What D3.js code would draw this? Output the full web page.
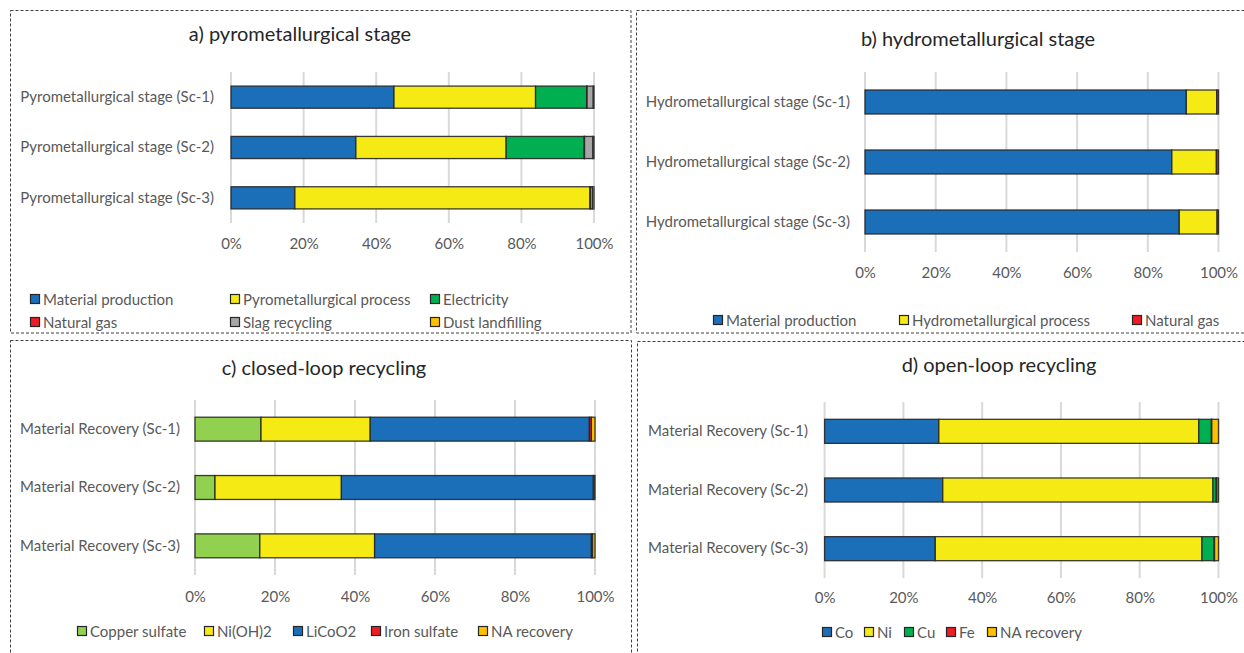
<!DOCTYPE html>
<html><head><meta charset="utf-8">
<script src="https://cdn.jsdelivr.net/npm/d3@7"></script>
<style>
body{margin:0;background:#fff;}
svg{display:block;font-family:Lato, "Noto Sans", sans-serif;}
</style></head>
<body><svg id="c" width="1244" height="653"></svg>
<script>
// ---------- data ----------
const tickValues = [0, 0.2, 0.4, 0.6, 0.8, 1.0];

const pyroCategories = ["Pyrometallurgical stage (Sc-1)", "Pyrometallurgical stage (Sc-2)", "Pyrometallurgical stage (Sc-3)"];
const pyroSeries = ["Material production", "Pyrometallurgical process", "Electricity", "Natural gas", "Slag recycling", "Dust landfilling"];
const pyroValues = [
  [44.9, 34.4, 17.6],
  [39.0, 41.4, 81.3],
  [14.1, 21.5, 0.0],
  [0.1, 0.1, 0.1],
  [1.7, 2.3, 0.6],
  [0.2, 0.3, 0.4]
];

const hydroCategories = ["Hydrometallurgical stage (Sc-1)", "Hydrometallurgical stage (Sc-2)", "Hydrometallurgical stage (Sc-3)"];
const hydroSeries = ["Material production", "Hydrometallurgical process", "Natural gas"];
const hydroValues = [
  [90.9, 86.8, 88.9],
  [8.6, 12.6, 10.7],
  [0.5, 0.6, 0.4]
];

const closedCategories = ["Material Recovery (Sc-1)", "Material Recovery (Sc-2)", "Material Recovery (Sc-3)"];
const closedSeries = ["Copper sulfate", "Ni(OH)2", "LiCoO2", "Iron sulfate", "NA recovery"];
const closedValues = [
  [16.5, 5.0, 16.2],
  [27.3, 31.6, 28.7],
  [54.8, 63.0, 54.2],
  [0.5, 0.1, 0.3],
  [0.9, 0.3, 0.6]
];

const openCategories = ["Material Recovery (Sc-1)", "Material Recovery (Sc-2)", "Material Recovery (Sc-3)"];
const openSeries = ["Co", "Ni", "Cu", "Fe", "NA recovery"];
const openValues = [
  [29.0, 30.0, 28.1],
  [66.0, 68.6, 67.7],
  [3.2, 0.8, 3.1],
  [0.1, 0.2, 0.1],
  [1.7, 0.4, 1.0]
];

// ---------- styles ----------
const BLUE = "#1b6fb8", YELLOW = "#f5ea14", GREEN = "#00b050", RED = "#ee1c25",
      GRAY = "#a6a6a6", ORANGE = "#ffc000", LGREEN = "#92d050";
const TXT = "#595959";
const FS = 15;

const svg = d3.select("#c");

// panel borders
function border(x, y, w, h) {
  svg.append("rect").attr("x", x).attr("y", y).attr("width", w).attr("height", h)
    .attr("fill", "none").attr("stroke", "#404040").attr("stroke-width", 1)
    .attr("stroke-dasharray", "3,2");
}
border(10.5, 10.5, 620.5, 322.5);
border(636.5, 10.5, 620, 322.5);
border(10.5, 340.5, 621, 330);
border(637.5, 341.5, 620, 330);

function panel(cfg) {
  const g = svg.append("g");
  const x = d3.scaleLinear().domain([0, 1]).range(cfg.xr);
  const y = d3.scaleBand().domain(cfg.categories).range(cfg.yr)
    .paddingInner(cfg.pad).paddingOuter(cfg.pad / 2);

  // title
  g.append("text").attr("x", cfg.title[1]).attr("y", cfg.title[2])
    .attr("text-anchor", "middle").attr("font-size", 20).attr("fill", "#262626")
    .text(cfg.title[0]);

  // grid
  g.selectAll(".grid").data(tickValues).join("line")
    .attr("x1", d => x(d)).attr("x2", d => x(d))
    .attr("y1", cfg.yr[0]).attr("y2", cfg.yr[1])
    .attr("stroke", "#d9d9d9").attr("stroke-width", 2);

  // x axis labels
  const ax = g.append("g").attr("transform", `translate(0,${cfg.tickY})`)
    .call(d3.axisBottom(x).tickValues(tickValues).tickFormat(d3.format(".0%")).tickSize(0).tickPadding(0));
  ax.select(".domain").remove();
  ax.selectAll("text").attr("font-size", FS).attr("fill", TXT).attr("font-family", "Lato, sans-serif");

  // y axis labels
  const ay = g.append("g").attr("transform", `translate(${cfg.labelX},0)`)
    .call(d3.axisLeft(y).tickSize(0).tickPadding(0));
  ay.select(".domain").remove();
  ay.selectAll("text").attr("font-size", FS).attr("fill", TXT).attr("font-family", "Lato, sans-serif");

  // stack
  const rows = cfg.categories.map((c, i) => {
    const o = { cat: c };
    cfg.series.forEach((s, j) => o[s] = cfg.values[j][i]);
    return o;
  });
  const stack = d3.stack().keys(cfg.series).offset(d3.stackOffsetExpand)(rows);
  g.selectAll(".layer").data(stack).join("g")
    .attr("fill", (d, i) => cfg.colors[i])
    .selectAll("rect").data(d => d).join("rect")
    .attr("x", d => x(d[0])).attr("width", d => Math.max(0, x(d[1]) - x(d[0])))
    .attr("y", d => y(d.data.cat)).attr("height", y.bandwidth())
    .attr("stroke", "#262626").attr("stroke-width", 1.3).attr("stroke-opacity", 0.9);

  // legend
  const lg = g.append("g");
  cfg.series.forEach((s, i) => {
    const p = cfg.legendPos[i];
    lg.append("rect").attr("x", p[0] + 0.5).attr("y", p[1] - 5.5).attr("width", 9).attr("height", 9)
      .attr("fill", cfg.colors[i]).attr("stroke", "#262626").attr("stroke-width", 1.2);
    lg.append("text").attr("x", p[0] + 13).attr("y", p[1]).attr("dy", "0.35em")
      .attr("font-size", FS).attr("fill", TXT).text(s);
  });
}

panel({
  categories: pyroCategories, series: pyroSeries, values: pyroValues,
  colors: [BLUE, YELLOW, GREEN, RED, GRAY, ORANGE],
  xr: [231, 594], yr: [72, 223], pad: 0.56, labelX: 214, tickY: 238,
  title: ["a) pyrometallurgical stage", 300, 41],
  legendPos: [[30, 300], [230, 300], [430, 300], [30, 323], [230, 323], [430, 323]]
});
panel({
  categories: hydroCategories, series: hydroSeries, values: hydroValues,
  colors: [BLUE, YELLOW, RED],
  xr: [865, 1218.5], yr: [72, 252], pad: 0.6, labelX: 850, tickY: 267,
  title: ["b) hydrometallurgical stage", 978, 46],
  legendPos: [[713, 321], [899, 321], [1132, 321]]
});
panel({
  categories: closedCategories, series: closedSeries, values: closedValues,
  colors: [LGREEN, YELLOW, BLUE, RED, ORANGE],
  xr: [195, 595], yr: [400, 575], pad: 0.59, labelX: 180, tickY: 591,
  title: ["c) closed-loop recycling", 324, 375],
  legendPos: [[77, 632], [204, 632], [293, 632], [371, 632], [478, 632]]
});
panel({
  categories: openCategories, series: openSeries, values: openValues,
  colors: [BLUE, YELLOW, GREEN, RED, ORANGE],
  xr: [824.6, 1218.5], yr: [402, 578], pad: 0.59, labelX: 808, tickY: 592,
  title: ["d) open-loop recycling", 999, 372],
  legendPos: [[822, 633], [864, 633], [904, 633], [946, 633], [987, 633]]
});
</script></body></html>
